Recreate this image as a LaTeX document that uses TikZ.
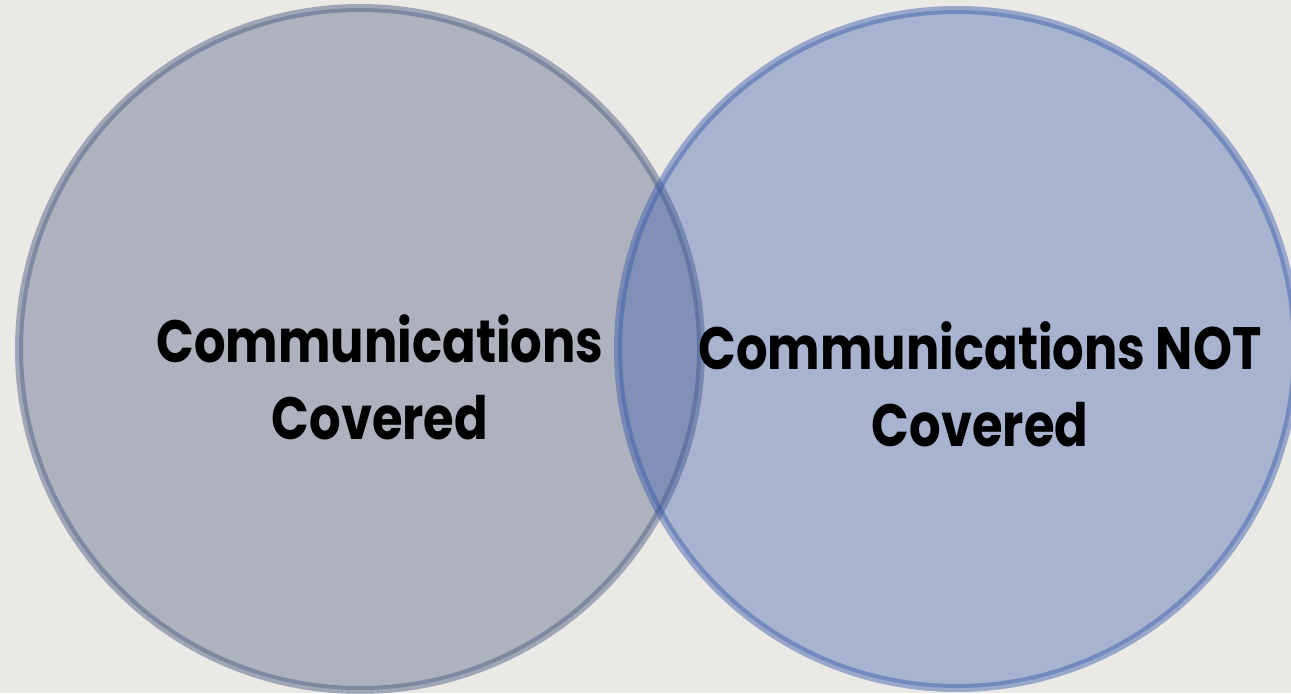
\documentclass[tikz,border=0pt]{standalone}
\usepackage{fontspec}
\setmainfont{Poppins}[UprightFont=* Bold, FakeStretch=0.83]
\definecolor{paper}{RGB}{234,233,230}
\definecolor{leftset}{RGB}{70,86,124}
\definecolor{rightset}{RGB}{54,88,170}
\tikzset{
  setcircle/.style={line width=0.08cm, fill opacity=0.37, draw opacity=0.45},
  setlabel/.style={align=center, font=\fontsize{17}{22}\selectfont, text=black}
}
\begin{document}
\begin{tikzpicture}
      \fill[paper] (0,0) rectangle (12.91,-6.93);
      \useasboundingbox (0,0) rectangle (12.91,-6.93);
      \draw[setcircle, draw=leftset, fill=leftset] (3.60,-3.49) circle (3.41);
      \draw[setcircle, draw=rightset, fill=rightset] (9.57,-3.49) circle (3.39);
      \node[setlabel] (covered) at (3.80,-3.77) {Communications\\Covered};
      \node[setlabel] (notcovered) at (9.80,-3.84) {Communications NOT\\Covered};
    \end{tikzpicture}
\end{document}
